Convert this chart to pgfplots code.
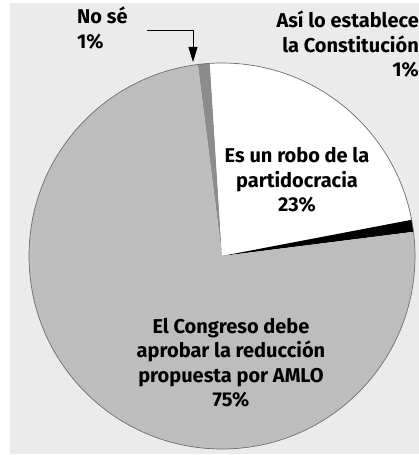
\documentclass[border=0pt]{standalone}
\usepackage{pgfplots}
\pgfplotsset{compat=1.18}
\usepackage{pgfplotstable}
\usepackage{fontspec}
\setmainfont{Fira Sans}
\usetikzlibrary{arrows.meta}

\definecolor{bg}{HTML}{EBEBEB}
\definecolor{congreso}{HTML}{BDBDBD}
\definecolor{nose}{HTML}{8C8C8C}
\definecolor{rim}{HTML}{6E6E6E}

% percentages, clockwise from the top
\pgfplotstableread{
label value
nose 1
robo 23
asi 1
congreso 75
}\piedata

\pgfplotstablegetelem{0}{value}\of\piedata \let\vA\pgfplotsretval
\pgfplotstablegetelem{1}{value}\of\piedata \let\vB\pgfplotsretval
\pgfplotstablegetelem{2}{value}\of\piedata \let\vC\pgfplotsretval
\pgfplotstablegetelem{3}{value}\of\piedata \let\vD\pgfplotsretval

\pgfmathsetmacro{\aA}{97.2}
\pgfmathsetmacro{\aB}{\aA-3.6*\vA}
\pgfmathsetmacro{\aC}{\aB-3.6*\vB}
\pgfmathsetmacro{\aD}{\aC-3.6*\vC}
\pgfmathsetmacro{\aE}{\aD-3.6*\vD}

\newcommand{\slice}[3]{%
  \fill[#3] (axis cs:222,199) -- ([shift={(#1:193pt)}]axis cs:222,199)
    arc[start angle=#1, end angle=#2, radius=193pt] -- cycle;}

\tikzset{lbl/.style={font=\fontsize{20}{24.5}\selectfont\bfseries, align=center, inner sep=0pt}}

\begin{document}
\begin{tikzpicture}
\begin{axis}[
  x=1pt, y=1pt,
  xmin=0, xmax=419, ymin=0, ymax=455,
  hide axis,
  clip=true,
]
\fill[white] (axis cs:0,0) rectangle (axis cs:419,455);
\fill[bg] (axis cs:10,1) rectangle (axis cs:419,452);

\slice{\aA}{\aB}{nose}
\slice{\aB}{\aC}{white}
\slice{\aC}{\aD}{black}
\slice{\aD}{\aE}{congreso}
\draw[rim, line width=0.7pt] (axis cs:222,199) circle[radius=193pt];

% arrow to the "No se" slice
\draw[line width=0.8pt, -{Triangle[width=9pt,length=15pt]}]
  (axis cs:147,425) -- (axis cs:193,425) -- (axis cs:193,393);

\node[lbl, anchor=north west, align=left] at (axis cs:77,448) {No sé\\1\%};
\node[lbl, anchor=north east, align=right] at (axis cs:419,444) {Así lo establece\\la Constitución\\1\%};
\node[lbl] at (axis cs:297,275) {Es un robo de la\\partidocracia\\23\%};
\node[lbl] at (axis cs:231,92) {El Congreso debe\\aprobar la reducción\\propuesta por AMLO\\75\%};
\end{axis}
\end{tikzpicture}
\end{document}
